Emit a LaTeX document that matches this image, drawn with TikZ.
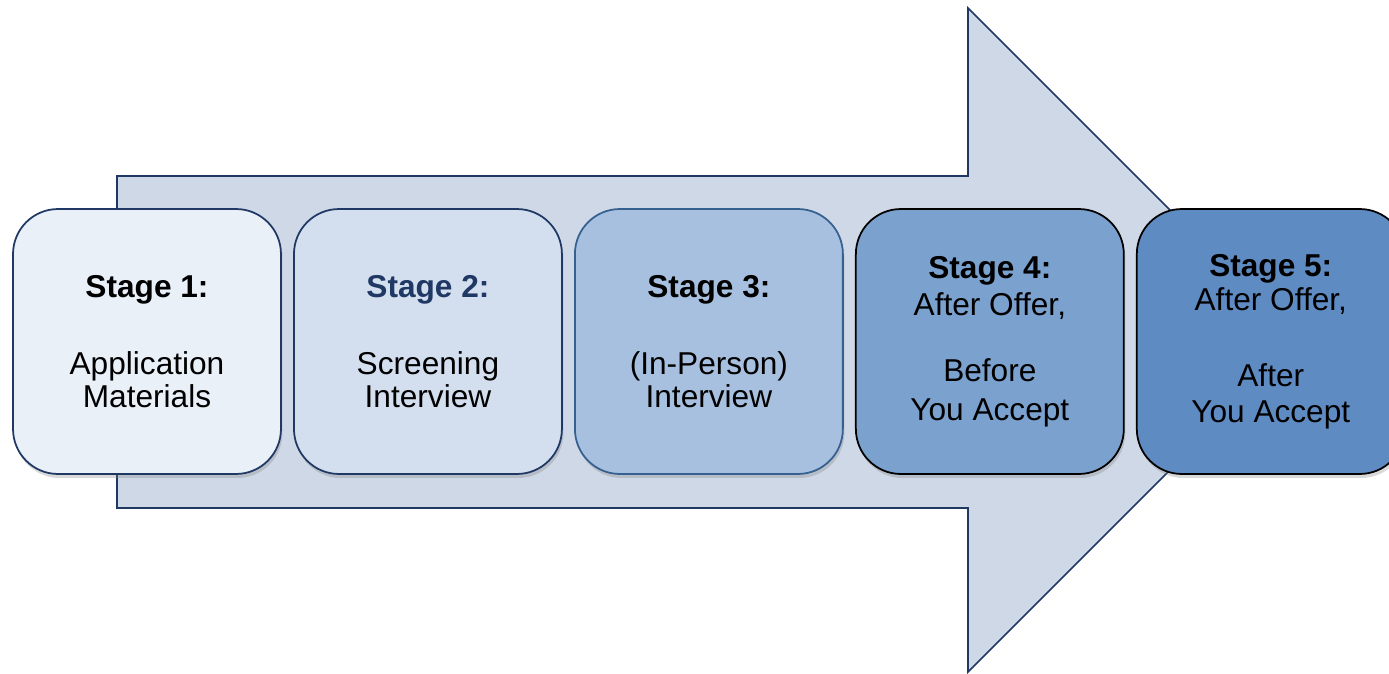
\documentclass[tikz,border=0pt]{standalone}
\usepackage{fontspec}
\setmainfont{Liberation Sans}
\usetikzlibrary{positioning,shadows}

\definecolor{arrowfill}{HTML}{CFD8E6}
\definecolor{navy}{HTML}{1F3864}
\definecolor{midblue}{HTML}{35608F}
\definecolor{stageA}{HTML}{EAF0F8}
\definecolor{stageB}{HTML}{D3DFEF}
\definecolor{stageC}{HTML}{A8C0DF}
\definecolor{stageD}{HTML}{7BA1CE}
\definecolor{stageE}{HTML}{5F8BC3}

\newcommand{\stagehead}[1]{{\bfseries #1}}

\begin{document}
\begin{tikzpicture}[x=0.02cm,y=-0.02cm,node distance=5.62cm,
  stage node/.style={rectangle,rounded corners=0.9cm,draw,line width=1pt,
    minimum width=5.36cm,minimum height=5.3cm,inner sep=0pt,align=center,
    font=\fontsize{18}{18.7}\selectfont,
    drop shadow={opacity=0.3,shadow xshift=0.03cm,shadow yshift=-0.08cm}}]

  \useasboundingbox (0,0) rectangle (1389,673);
  \clip (0,0) rectangle (1389,673);

  % big arrow behind the stages
  \filldraw[fill=arrowfill,draw=navy,line width=0.9pt]
    (117,176) -- (968,176) -- (968,8) -- (1300,340) -- (968,672)
    -- (968,508) -- (117,508) -- cycle;

  \node[stage node,fill=stageA,draw=navy] (1) at (147,341.5)
    {\stagehead{Stage 1:}\\[25.5pt]Application\\Materials};
  \node[stage node,fill=stageB,draw=navy] (2) [right of=1]
    {\stagehead{\textcolor{navy}{Stage 2:}}\\[25.5pt]Screening\\Interview};
  \node[stage node,fill=stageC,draw=midblue] (3) [right of=2]
    {\stagehead{Stage 3:}\\[25.5pt](In-Person)\\Interview};
  \node[stage node,fill=stageD,draw=black] (4) [right of=3]
    {\stagehead{Stage 4:}\\[2.8pt]After Offer,\\[18.7pt]Before\\[3.3pt]You Accept};
  \node[stage node,fill=stageE,draw=black] (5) [right of=4]
    {\stagehead{Stage 5:}\\[1.1pt]After Offer,\\[24.3pt]After\\[1.7pt]You Accept};
\end{tikzpicture}
\end{document}
